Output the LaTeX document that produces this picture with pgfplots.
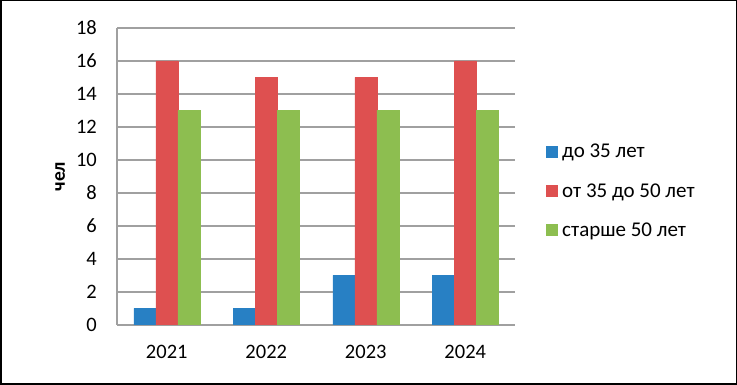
\documentclass[border=0pt]{standalone}
\usepackage{pgfplots}
\pgfplotsset{compat=1.18}
\usepackage{fontspec}
\setmainfont{Carlito}
\definecolor{cblue}{RGB}{40,128,196}
\definecolor{cred}{RGB}{222,80,80}
\definecolor{cgreen}{RGB}{141,190,80}
\definecolor{cgrid}{RGB}{160,160,160}
\begin{document}
\begin{tikzpicture}
\useasboundingbox (0,0) rectangle (737pt,385pt);
\draw[line width=1.5pt] (0.75pt,0.75pt) rectangle (736.25pt,384.25pt);
\begin{axis}[
  at={(117pt,60pt)}, anchor=south west,
  scale only axis, width=398pt, height=297pt,
  ybar=0pt, bar width=22pt,
  xmin=-0.5, xmax=3.5, ymin=0, ymax=18,
  xtick={0,1,2,3}, xticklabels={2021,2022,2023,2024},
  ytick={0,2,...,18},
  major tick length=0pt,
  axis x line*=bottom, axis y line*=left,
  axis line style={cgrid, line width=1.2pt},
  ymajorgrids, grid style={cgrid, line width=1.2pt},
  /pgf/number format/assume math mode=true,
  tick label style={font=\fontsize{20.5}{24}\selectfont, inner sep=0pt},
  yticklabel style={anchor=east, xshift=-20pt},
  xticklabel style={anchor=north, yshift=-20pt},
  ylabel={\textbf{чел}},
  ylabel style={font=\fontsize{19.5}{22}\selectfont, at={(rel axis cs:-0.143,0.5)}, anchor=center},
  legend cell align=left,
  legend style={draw=none, fill=none, at={(rel axis cs:1.077,0.451)}, anchor=west,
    font=\fontsize{21}{25}\selectfont, row sep=20pt, inner sep=0pt},
  legend image code/.code={\fill[#1] (0pt,-5.5pt) rectangle (11pt,5.5pt); \path (14pt,0pt);},
]
\addplot[fill=cblue, draw=cblue] coordinates {(0,1) (1,1) (2,3) (3,3)};
\addplot[fill=cred, draw=cred] coordinates {(0,16) (1,15) (2,15) (3,16)};
\addplot[fill=cgreen, draw=cgreen] coordinates {(0,13) (1,13) (2,13) (3,13)};
\legend{до 35 лет, от 35 до 50 лет, старше 50 лет}
\end{axis}
\end{tikzpicture}
\end{document}
